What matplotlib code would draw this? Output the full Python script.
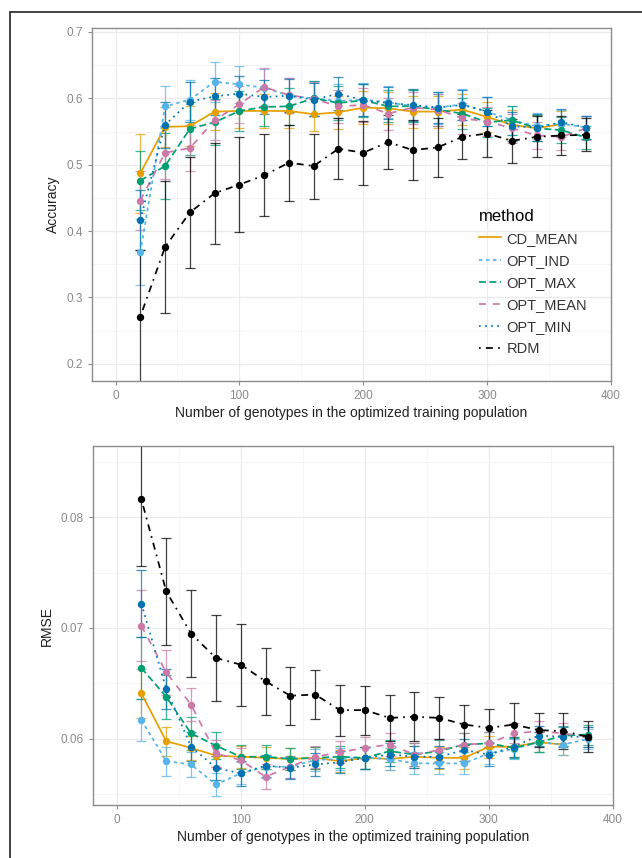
import matplotlib.pyplot as plt
from matplotlib.patches import Rectangle

plt.rcParams['font.family'] = ['Liberation Sans', 'DejaVu Sans']

# genotypes in the optimized training population
x_all = [20, 40, 60, 80, 100, 120, 140, 160, 180, 200, 220, 240, 260, 280, 300, 320, 340, 360, 380]
x_cd = x_all[:-1]

metodos = ["CD_MEAN", "OPT_IND", "OPT_MAX", "OPT_MEAN", "OPT_MIN", "RDM"]
colores = ["#E69F00", "#56B4E9", "#009E73", "#CC79A7", "#0072B2", "#000000"]
estilos = ["-", (0, (2, 2)), (0, (4, 2)), (0, (4, 4)), (0, (1, 2.5)), (0, (1, 3, 4, 3))]

# Accuracy (media)
acc_cd_mean = [0.487, 0.557, 0.558, 0.580, 0.581, 0.581, 0.581, 0.576, 0.579, 0.586, 0.585, 0.580, 0.580, 0.583, 0.572, 0.560, 0.555, 0.561]
acc_opt_ind = [0.368, 0.588, 0.598, 0.625, 0.621, 0.616, 0.604, 0.600, 0.596, 0.598, 0.594, 0.588, 0.586, 0.591, 0.580, 0.567, 0.558, 0.562, 0.556]
acc_opt_max = [0.476, 0.498, 0.554, 0.564, 0.581, 0.587, 0.588, 0.600, 0.593, 0.597, 0.588, 0.588, 0.583, 0.577, 0.564, 0.567, 0.555, 0.552, 0.541]
acc_opt_mean = [0.446, 0.518, 0.525, 0.567, 0.591, 0.617, 0.605, 0.599, 0.588, 0.590, 0.577, 0.586, 0.583, 0.570, 0.565, 0.555, 0.544, 0.542, 0.555]
acc_opt_min = [0.417, 0.560, 0.595, 0.603, 0.607, 0.602, 0.604, 0.598, 0.607, 0.597, 0.593, 0.590, 0.586, 0.590, 0.580, 0.558, 0.556, 0.564, 0.556]
acc_rdm = [0.271, 0.376, 0.428, 0.457, 0.470, 0.484, 0.503, 0.498, 0.524, 0.518, 0.534, 0.522, 0.526, 0.542, 0.547, 0.536, 0.542, 0.544, 0.545]

# Accuracy (desviacion)
acc_cd_sd = [0.060, 0.030, 0.030, 0.028, 0.025, 0.025, 0.025, 0.025, 0.025, 0.025, 0.024, 0.024, 0.024, 0.023, 0.022, 0.022, 0.020, 0.020]
acc_ind_sd = [0.050, 0.030, 0.030, 0.030, 0.028, 0.028, 0.026, 0.026, 0.025, 0.025, 0.024, 0.024, 0.024, 0.023, 0.022, 0.022, 0.020, 0.020, 0.018]
acc_max_sd = [0.045, 0.050, 0.040, 0.035, 0.030, 0.028, 0.028, 0.026, 0.026, 0.025, 0.024, 0.024, 0.024, 0.023, 0.022, 0.022, 0.020, 0.020, 0.018]
acc_mean_sd = [0.045, 0.040, 0.035, 0.030, 0.028, 0.028, 0.026, 0.026, 0.025, 0.025, 0.024, 0.024, 0.024, 0.023, 0.022, 0.022, 0.020, 0.020, 0.018]
acc_min_sd = [0.045, 0.035, 0.030, 0.028, 0.026, 0.026, 0.025, 0.025, 0.025, 0.024, 0.024, 0.024, 0.023, 0.023, 0.022, 0.022, 0.020, 0.020, 0.018]
acc_rdm_sd = [0.100, 0.100, 0.083, 0.076, 0.072, 0.062, 0.057, 0.049, 0.046, 0.048, 0.041, 0.045, 0.045, 0.034, 0.036, 0.033, 0.031, 0.030, 0.025]

# RMSE (media)
rmse_cd_mean = [0.0641, 0.0598, 0.0592, 0.0585, 0.0584, 0.0583, 0.0582, 0.0583, 0.0580, 0.0583, 0.0582, 0.0584, 0.0583, 0.0583, 0.0593, 0.0593, 0.0597, 0.0595]
rmse_opt_ind = [0.0617, 0.0580, 0.0577, 0.0559, 0.0569, 0.0575, 0.0575, 0.0581, 0.0582, 0.0583, 0.0582, 0.0578, 0.0578, 0.0578, 0.0587, 0.0591, 0.0597, 0.0595, 0.0600]
rmse_opt_max = [0.0664, 0.0638, 0.0605, 0.0594, 0.0584, 0.0584, 0.0582, 0.0583, 0.0584, 0.0583, 0.0589, 0.0586, 0.0589, 0.0595, 0.0596, 0.0592, 0.0597, 0.0603, 0.0604]
rmse_opt_mean = [0.0702, 0.0660, 0.0631, 0.0587, 0.0581, 0.0566, 0.0575, 0.0584, 0.0588, 0.0592, 0.0595, 0.0586, 0.0590, 0.0595, 0.0596, 0.0605, 0.0607, 0.0605, 0.0602]
rmse_opt_min = [0.0722, 0.0645, 0.0593, 0.0574, 0.0569, 0.0576, 0.0574, 0.0577, 0.0579, 0.0583, 0.0586, 0.0584, 0.0584, 0.0590, 0.0586, 0.0593, 0.0603, 0.0602, 0.0602]
rmse_rdm = [0.0816, 0.0733, 0.0695, 0.0673, 0.0667, 0.0652, 0.0639, 0.0640, 0.0626, 0.0626, 0.0619, 0.0620, 0.0619, 0.0613, 0.0610, 0.0613, 0.0608, 0.0607, 0.0602]

# RMSE (desviacion)
rmse_cd_sd = [0.0022, 0.0013, 0.0011, 0.0010, 0.0010, 0.0010, 0.0010, 0.0010, 0.0010, 0.0010, 0.0010, 0.0010, 0.0010, 0.0010, 0.0010, 0.0009, 0.0009, 0.0009]
rmse_ind_sd = [0.0019, 0.0013, 0.0011, 0.0010, 0.0010, 0.0010, 0.0010, 0.0010, 0.0010, 0.0010, 0.0010, 0.0010, 0.0010, 0.0010, 0.0010, 0.0009, 0.0009, 0.0009, 0.0009]
rmse_max_sd = [0.0028, 0.0020, 0.0015, 0.0012, 0.0011, 0.0011, 0.0010, 0.0010, 0.0010, 0.0010, 0.0010, 0.0010, 0.0010, 0.0010, 0.0010, 0.0009, 0.0009, 0.0009, 0.0009]
rmse_mean_sd = [0.0032, 0.0020, 0.0015, 0.0012, 0.0011, 0.0011, 0.0010, 0.0010, 0.0010, 0.0010, 0.0010, 0.0010, 0.0010, 0.0010, 0.0010, 0.0009, 0.0009, 0.0009, 0.0009]
rmse_min_sd = [0.0030, 0.0018, 0.0013, 0.0011, 0.0011, 0.0010, 0.0010, 0.0010, 0.0010, 0.0010, 0.0010, 0.0010, 0.0010, 0.0010, 0.0010, 0.0009, 0.0009, 0.0009, 0.0009]
rmse_rdm_sd = [0.0060, 0.0048, 0.0039, 0.0039, 0.0037, 0.0030, 0.0026, 0.0022, 0.0023, 0.0022, 0.0021, 0.0022, 0.0019, 0.0018, 0.0017, 0.0019, 0.0015, 0.0016, 0.0014]

acc_series = [(x_cd, acc_cd_mean, acc_cd_sd), (x_all, acc_opt_ind, acc_ind_sd), (x_all, acc_opt_max, acc_max_sd),
              (x_all, acc_opt_mean, acc_mean_sd), (x_all, acc_opt_min, acc_min_sd), (x_all, acc_rdm, acc_rdm_sd)]
rmse_series = [(x_cd, rmse_cd_mean, rmse_cd_sd), (x_all, rmse_opt_ind, rmse_ind_sd), (x_all, rmse_opt_max, rmse_max_sd),
               (x_all, rmse_opt_mean, rmse_mean_sd), (x_all, rmse_opt_min, rmse_min_sd), (x_all, rmse_rdm, rmse_rdm_sd)]

W, H = 642, 858
fig = plt.figure(figsize=(W / 100, H / 100), dpi=100)
fig.patches.append(Rectangle((10 / W, -0.01), 1.0, 1 - 12 / H + 0.01, transform=fig.transFigure,
                             fill=False, edgecolor="#222222", linewidth=1.2))

ax1 = fig.add_axes([92 / W, 1 - 381 / H, (611 - 92) / W, (381 - 28) / H])
ax2 = fig.add_axes([93 / W, 1 - 805 / H, (613 - 93) / W, (805 - 446) / H])


def dibujar(ax, series, ylim, yticks, yminor, ylabel):
    ax.set_axisbelow(True)
    for (xs, m, sd), c, ls, nom in zip(series, colores, estilos, metodos):
        ax.errorbar(xs, m, yerr=sd, color=c, ecolor=c, elinewidth=0.9, capsize=3.5, capthick=0.9,
                    linestyle='none', alpha=0.75, zorder=2)
        ax.plot(xs, m, color=c, linestyle=ls, linewidth=1.25, marker='o', markersize=4.3,
                label=nom, zorder=3)
    ax.set_xlim(-19, 400)
    ax.set_ylim(*ylim)
    ax.set_xticks([0, 100, 200, 300, 400])
    ax.set_xticks([50, 150, 250, 350], minor=True)
    ax.set_yticks(yticks)
    ax.set_yticks(yminor, minor=True)
    ax.grid(True, which='major', color='#ebebeb', linewidth=0.9)
    ax.grid(True, which='minor', color='#f4f4f4', linewidth=0.6)
    for s in ax.spines.values():
        s.set_color('#8c8c8c')
        s.set_linewidth(1.0)
    ax.tick_params(which='major', colors='#8c8c8c', labelcolor='#8a8a8a', labelsize=8.5, length=3)
    ax.tick_params(which='minor', length=0)
    ax.set_xlabel("Number of genotypes in the optimized training population", fontsize=10, color='#222222', labelpad=3)
    ax.set_ylabel(ylabel, fontsize=10, color='#222222', labelpad=5)


dibujar(ax1, acc_series, (0.174, 0.706), [0.2, 0.3, 0.4, 0.5, 0.6, 0.7],
        [0.25, 0.35, 0.45, 0.55, 0.65], "Accuracy")
ax1.set_yticklabels(["0.2", "0.3", "0.4", "0.5", "0.6", "0.7"])
dibujar(ax2, rmse_series, (0.05405, 0.0864), [0.06, 0.07, 0.08],
        [0.055, 0.065, 0.075, 0.085], "RMSE")
ax2.set_yticklabels(["0.06", "0.07", "0.08"])

leg = ax1.legend(loc='upper left', bbox_to_anchor=(0.735, 0.505), frameon=False, title="method",
                 fontsize=10.5, title_fontsize=12, handlelength=1.5, handletextpad=0.35,
                 labelspacing=0.55, borderaxespad=0)
leg._legend_box.align = "left"
for t in leg.get_texts():
    t.set_color('#333333')
for h in leg.get_lines():
    h.set_marker('')

fig.savefig("out.png", dpi=100)
